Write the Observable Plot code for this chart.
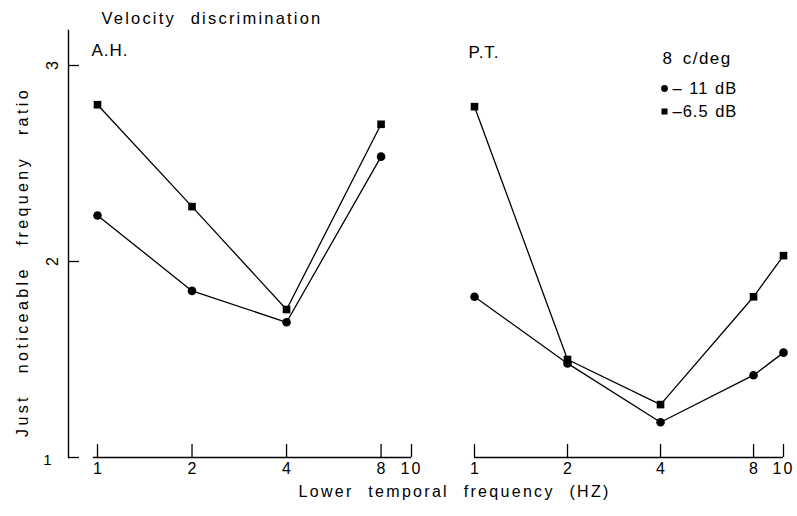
<!DOCTYPE html>
<html>
<head>
<meta charset="utf-8">
<script src="https://cdn.jsdelivr.net/npm/d3@7"></script>
<script src="https://cdn.jsdelivr.net/npm/@observablehq/plot@0.6"></script>
<style>
  body { margin: 0; background: #fff; }
  #chart { position: relative; width: 797px; height: 516px; background: #fff; }
  #chart svg { position: absolute; left: 0; top: 0; }
</style>
</head>
<body>
<div id="chart"></div>
<script>
// ---- data ----
const title = "Velocity discrimination";
const yLabel = "Just noticeable frequeny ratio";
const xLabel = "Lower temporal frequency (HZ)";
const panelNames = ["A.H.", "P.T."];
const legendTitle = "8 c/deg";
const seriesNames = ["– 11 dB", "–6.5 dB"];

const freqAH = [1, 2, 4, 8];
const ahMinus11 = [2.235, 1.85, 1.69, 2.535];
const ahMinus65 = [2.80, 2.28, 1.755, 2.70];

const freqPT = [1, 2, 4, 8, 10];
const ptMinus11 = [1.82, 1.48, 1.18, 1.42, 1.535];
const ptMinus65 = [2.79, 1.50, 1.27, 1.82, 2.03];

const xTicks = [1, 2, 4, 8, 10];
const yTicks = [1, 2, 3];
const axisLineStart = [0.97, 1];

// ---- build rows ----
function rows(freq, a, b) {
  return [
    ...freq.map((f, i) => ({f, v: a[i], s: seriesNames[0]})),
    ...freq.map((f, i) => ({f, v: b[i], s: seriesNames[1]}))
  ];
}
const ahRows = rows(freqAH, ahMinus11, ahMinus65);
const ptRows = rows(freqPT, ptMinus11, ptMinus65);

const W = 797, H = 516;
const FONT = "'Liberation Sans', Arial, sans-serif";
const svgStyle = {background: "transparent", fontFamily: FONT, color: "#000", overflow: "visible"};
const symbolScale = {domain: seriesNames, range: ["circle", "square"]};

function panelMarks(data, start) {
  return [
    Plot.ruleY([1], {x1: start, x2: xTicks[xTicks.length - 1], stroke: "#000", strokeWidth: 1.4}),
    Plot.axisX(xTicks, {tickSize: -13, tickFormat: () => "", strokeWidth: 1.3}),
    Plot.text(xTicks, {x: d => d, frameAnchor: "bottom", textAnchor: "middle", dy: 16, text: d => String(d), fontSize: 16, fontFamily: FONT}),
    Plot.line(data, {x: "f", y: "v", z: "s", stroke: "#000", strokeWidth: 1.3}),
    Plot.dot(data, {x: "f", y: "v", symbol: "s", fill: "#000", stroke: "none", r: 4.3})
  ];
}

const plotA = Plot.plot({
  width: W, height: H,
  marginLeft: 68, marginTop: 30, marginBottom: 59, marginRight: 0,
  style: svgStyle,
  x: {type: "log", domain: [1, 10], range: [97, 411], label: null},
  y: {type: "linear", domain: [1, 3], range: [457, 65], label: null},
  symbol: symbolScale,
  marks: [
    Plot.frame({anchor: "left", stroke: "#000", strokeWidth: 1.4}),
    Plot.axisY(yTicks, {tickSize: -11, tickFormat: () => "", strokeWidth: 1.3}),
    Plot.text(yTicks.filter(d => d > 1), {y: d => d, frameAnchor: "left", textAnchor: "middle", dx: -16, rotate: -90, text: d => String(d), fontSize: 16, fontFamily: FONT}),
    Plot.text(yTicks.filter(d => d === 1), {y: d => d, frameAnchor: "left", textAnchor: "middle", dx: -21, dy: 3, text: d => String(d), fontSize: 15, fontFamily: FONT}),
    Plot.text([title], {frameAnchor: "top-left", dx: 33, dy: -12, textAnchor: "start", lineAnchor: "middle", fontSize: 16.5, fontFamily: FONT}),
    Plot.text([panelNames[0]], {frameAnchor: "top-left", dx: 23, dy: 20, textAnchor: "start", lineAnchor: "middle", fontSize: 17, fontFamily: FONT}),
    Plot.text([yLabel], {frameAnchor: "left", textAnchor: "start", lineAnchor: "middle", dx: -46, dy: 193, rotate: -90, fontSize: 16, fontFamily: FONT}),
    Plot.text([xLabel], {frameAnchor: "bottom-left", textAnchor: "start", lineAnchor: "middle", dx: 230, dy: 34, fontSize: 16, fontFamily: FONT}),
    ...panelMarks(ahRows, axisLineStart[0])
  ]
});

const plotB = Plot.plot({
  width: W, height: H,
  marginLeft: 440, marginTop: 30, marginBottom: 59, marginRight: 0,
  style: svgStyle,
  x: {type: "log", domain: [1, 10], range: [474, 783], label: null},
  y: {type: "linear", domain: [1, 3], range: [457, 65], label: null, axis: null},
  symbol: symbolScale,
  marks: [
    Plot.text([panelNames[1]], {frameAnchor: "top-left", dx: 28, dy: 22, textAnchor: "start", lineAnchor: "middle", fontSize: 17, fontFamily: FONT}),
    Plot.text([legendTitle], {frameAnchor: "top-left", dx: 222, dy: 28, textAnchor: "start", lineAnchor: "middle", fontSize: 17, fontFamily: FONT}),
    ...seriesNames.map((s, i) => Plot.dot([s], {frameAnchor: "top-left", dx: 224, dy: 58 + i * 23, symbol: d => d, fill: "#000", r: 3.4})),
    ...seriesNames.map((s, i) => Plot.text([s], {frameAnchor: "top-left", dx: 232, dy: 58 + i * 23, textAnchor: "start", lineAnchor: "middle", fontSize: 16.5, fontFamily: FONT})),
    ...panelMarks(ptRows, axisLineStart[1])
  ]
});

// letter spacing of the hand-lettered original
const spacing = new Map([
  [title, ["2.2px", "8px"]],
  [xLabel, ["2.3px", "8px"]],
  [yLabel, ["3.4px", "13px"]],
  [legendTitle, ["1.5px", "3px"]],
  [seriesNames[0], ["1px", "1px"]],
  [seriesNames[1], ["1px", "1px"]],
  [panelNames[0], ["1px", "0px"]],
  [panelNames[1], ["1px", "0px"]],
  ["10", ["2px", "0px"]]
]);
for (const svg of [plotA, plotB]) {
  d3.select(svg).selectAll("text").each(function() {
    const s = spacing.get(this.textContent);
    if (s) d3.select(this).style("letter-spacing", s[0]).style("word-spacing", s[1]);
  });
}

const chart = document.getElementById("chart");
chart.appendChild(plotA);
chart.appendChild(plotB);
</script>
</body>
</html>
